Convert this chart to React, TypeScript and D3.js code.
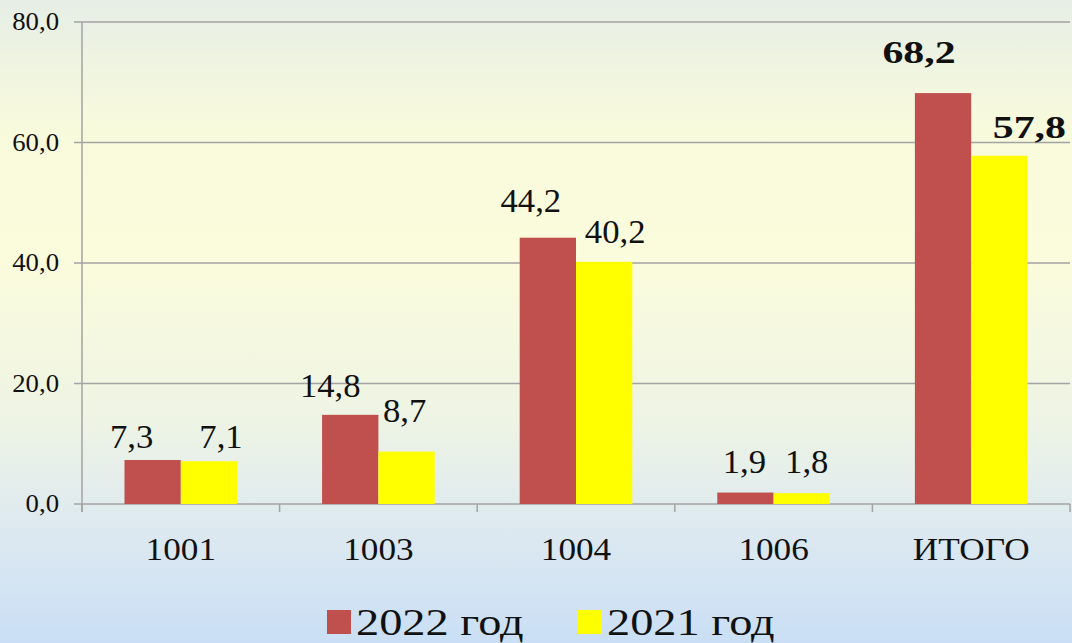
import * as d3 from "d3";

const categories = ["1001", "1003", "1004", "1006", "ИТОГО"];
const values2022 = [7.3, 14.8, 44.2, 1.9, 68.2];
const values2021 = [7.1, 8.7, 40.2, 1.8, 57.8];
const yTicks = [0, 20, 40, 60, 80];
const seriesNames = ["2022 год", "2021 год"];

// label nudges (dx from bar centre, dy from bar top), picked by eye
const nudge2022 = [[-21, -12], [-20, -18], [-17, -26], [-1, -20], [-24, -30]];
const nudge2021 = [[12, -13], [-2, -30], [11, -19], [5, -20], [30, -18]];

const W = 1072;
const H = 643;
const FONT = "'Liberation Serif', 'Times New Roman', serif";
const RED = "#c0504d";
const YELLOW = "#ffff00";
const GRID = "#a3a3a3";

const fmt = (v: number) => v.toFixed(1).replace(".", ",");

function Label({ x, y, text, size, sx = 1, bold = false, anchor = "middle" }: {
  x: number; y: number; text: string; size: number; sx?: number; bold?: boolean; anchor?: string;
}) {
  return (
    <text
      transform={`translate(${x},${y}) scale(${sx},1)`}
      textAnchor={anchor}
      fontFamily={FONT}
      fontSize={size}
      fontWeight={bold ? "bold" : "normal"}
      fill="#111"
    >
      {text}
    </text>
  );
}

export default function App() {
  const margin = { left: 82, right: 2, top: 22, bottom: 139 };

  const x = d3.scaleBand<string>()
    .domain(categories)
    .range([margin.left, W - margin.right])
    .paddingInner(0.43)
    .paddingOuter(0.215);

  const xSub = d3.scaleBand<string>()
    .domain(seriesNames)
    .range([0, x.bandwidth()]);

  const y = d3.scaleLinear()
    .domain([0, 80])
    .range([H - margin.bottom, margin.top]);

  const step = x.step();
  const series = [
    { name: seriesNames[0], values: values2022, color: RED, nudge: nudge2022 },
    { name: seriesNames[1], values: values2021, color: YELLOW, nudge: nudge2021 },
  ];
  const boundaries = d3.range(categories.length + 1).map(i => margin.left + i * step);

  return (
    <svg width={W} height={H} style={{ position: "absolute", left: 0, top: 0 }}>
      <defs>
        <linearGradient id="bg" x1="0" y1="0" x2="0" y2="1">
          <stop offset="0" stopColor="#e6eee6" />
          <stop offset="0.2" stopColor="#f8fadc" />
          <stop offset="0.4" stopColor="#fbfcdc" />
          <stop offset="0.65" stopColor="#eef4e4" />
          <stop offset="0.82" stopColor="#dde9f0" />
          <stop offset="1" stopColor="#cadff5" />
        </linearGradient>
      </defs>
      <rect x={0} y={0} width={W} height={H} fill="url(#bg)" />

      {/* grid + y ticks */}
      {yTicks.map(t => (
        <g key={t}>
          <line x1={margin.left - 8} x2={W - margin.right} y1={y(t)} y2={y(t)} stroke={GRID} strokeWidth={1.5} />
          <Label x={59} y={y(t) + 8} text={fmt(t)} size={25} sx={1.07} anchor="end" />
        </g>
      ))}
      <line x1={margin.left} x2={margin.left} y1={y(80)} y2={y(0) + 8} stroke={GRID} strokeWidth={1.5} />
      {boundaries.map((b, i) => (
        <line key={i} x1={b} x2={b} y1={y(0)} y2={y(0) + 8} stroke={GRID} strokeWidth={1.5} />
      ))}

      {/* bars */}
      {series.map(s => (
        <g key={s.name}>
          {categories.map((c, i) => {
            const bx = (x(c) ?? 0) + (xSub(s.name) ?? 0);
            return (
              <rect key={c} x={bx} y={y(s.values[i])} width={xSub.bandwidth()}
                height={y(0) - y(s.values[i])} fill={s.color} />
            );
          })}
        </g>
      ))}

      {/* value labels */}
      {series.map(s => (
        <g key={s.name + "-lbl"}>
          {categories.map((c, i) => {
            const cx = (x(c) ?? 0) + (xSub(s.name) ?? 0) + xSub.bandwidth() / 2 + s.nudge[i][0];
            const cy = y(s.values[i]) + s.nudge[i][1];
            const total = c === "ИТОГО";
            return (
              <Label key={c} x={cx} y={cy} text={fmt(s.values[i])}
                size={total ? 31 : 33} sx={total ? 1.35 : 1.05} bold={total} />
            );
          })}
        </g>
      ))}

      {/* category labels */}
      {categories.map(c => (
        <Label key={c} x={(x(c) ?? 0) + x.bandwidth() / 2} y={560} text={c} size={32} sx={1.1} />
      ))}

      {/* legend */}
      {series.map((s, i) => {
        const lx = 327 + i * 251;
        return (
          <g key={s.name + "-leg"}>
            <rect x={lx} y={610} width={24} height={24} fill={s.color} />
            <Label x={lx + 29} y={635} text={s.name} size={38} sx={1.22} anchor="start" />
          </g>
        );
      })}
    </svg>
  );
}
